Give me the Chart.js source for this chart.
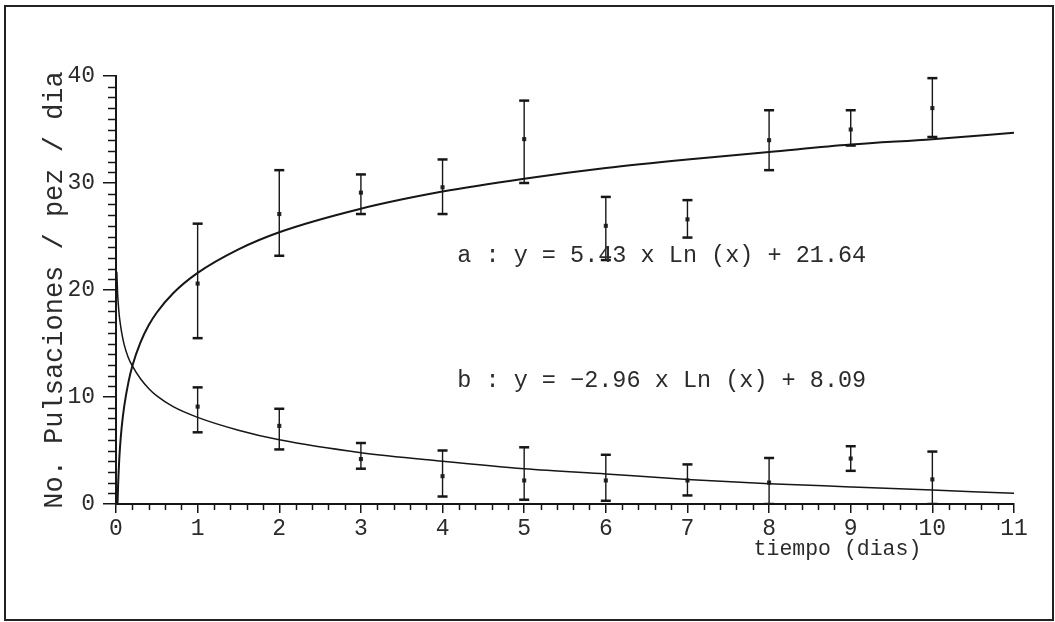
<!DOCTYPE html>
<html>
<head>
<meta charset="utf-8">
<script src="https://cdn.jsdelivr.net/npm/chart.js@4.4.1/dist/chart.umd.min.js"></script>
<style>
  html, body { margin: 0; padding: 0; background: #ffffff; overflow: hidden; }
  #wrap { position: relative; width: 1055px; height: 622px; }
  #frame { position: absolute; left: 4px; top: 5px; width: 1050px; height: 616px;
           box-sizing: border-box; border: 2px solid #222; pointer-events: none; }
</style>
</head>
<body>
<div id="wrap">
  <canvas id="c" width="1055" height="622"></canvas>
  <div id="frame"></div>
</div>
<script>
// ---- data ----
const days = [1, 2, 3, 4, 5, 6, 7, 8, 9, 10];

const aMean = [20.6, 27.1, 29.1, 29.6, 34.1, 26.0, 26.6, 34.0, 35.0, 37.0];
const aHigh = [26.2, 31.2, 30.8, 32.2, 37.7, 28.7, 28.4, 36.8, 36.8, 39.8];
const aLow  = [15.5, 23.2, 27.1, 27.1, 30.0, 22.8, 24.9, 31.2, 33.5, 34.3];

const bMean = [9.1, 7.3, 4.2, 2.6, 2.2, 2.2, 2.2, 2.0, 4.25, 2.3];
const bHigh = [10.9, 8.9, 5.7, 5.0, 5.3, 4.6, 3.7, 4.3, 5.4, 4.9];
const bLow  = [6.7, 5.1, 3.3, 0.7, 0.4, 0.3, 0.8, 0.0, 3.1, 0.0];

// fitted curves
const curveX = [0.01, 0.019, 0.025, 0.03, 0.04, 0.05, 0.07, 0.1, 0.15, 0.2, 0.3, 0.4, 0.5, 0.7, 1, 1.5, 2, 3, 4, 5, 6, 7, 8, 9, 10, 11];
const curveA = [null, 0.1, 1.6, 2.6, 4.2, 5.4, 7.2, 9.1, 11.3, 12.9, 15.1, 16.7, 17.9, 19.7, 21.6, 23.8, 25.4, 27.6, 29.2, 30.4, 31.4, 32.2, 32.9, 33.6, 34.1, 34.7];
const curveB = [21.7, 19.8, 19.0, 18.5, 17.6, 17.0, 16.0, 14.9, 13.7, 12.9, 11.7, 10.8, 10.1, 9.1, 8.1, 6.9, 6.0, 4.8, 4.0, 3.3, 2.8, 2.3, 1.9, 1.6, 1.3, 1.0];

const xTicks = [0, 1, 2, 3, 4, 5, 6, 7, 8, 9, 10, 11];
const yTicks = [0, 10, 20, 30, 40];

const equations = ["a : y = 5.43 x Ln (x) + 21.64", "b : y = \u22122.96 x Ln (x) + 8.09"];
const xTitle = "tiempo (dias)";
const yTitle = "No. Pulsaciones / pez / dia";

// ---- build datasets ----
const INK = '#161616';
const TEXT = '#2b2b2b';
const FONT = "'Liberation Mono', 'DejaVu Sans Mono', monospace";

function curvePoints(ys) {
  const pts = [];
  curveX.forEach((x, i) => { if (ys[i] !== null) pts.push({x: x, y: ys[i]}); });
  return pts;
}

const datasets = [
  { label: 'a fit', data: curvePoints(curveA), showLine: true, borderColor: INK, borderWidth: 2,
    pointRadius: 0, cubicInterpolationMode: 'monotone', fill: false },
  { label: 'b fit', data: curvePoints(curveB), showLine: true, borderColor: INK, borderWidth: 1.5,
    pointRadius: 0, cubicInterpolationMode: 'monotone', fill: false }
];

function addErrorBars(lows, highs) {
  days.forEach((d, i) => {
    datasets.push({
      data: [{x: d, y: lows[i]}, {x: d, y: highs[i]}],
      showLine: true, borderColor: INK, borderWidth: 1.4,
      pointStyle: 'line', pointRadius: 5, pointBorderWidth: 2.5, pointBorderColor: INK,
      pointBackgroundColor: INK, fill: false
    });
  });
}
addErrorBars(aLow, aHigh);
addErrorBars(bLow, bHigh);

[aMean, bMean].forEach(m => {
  datasets.push({
    data: days.map((d, i) => ({x: d, y: m[i]})),
    showLine: false, pointStyle: 'rect', pointRadius: 2.9,
    pointBackgroundColor: '#2a2a2a', pointBorderWidth: 0
  });
});

// ---- plugin: minor ticks, equations, x title ----
const extras = {
  id: 'extras',
  afterDraw(chart) {
    const ctx = chart.ctx;
    const xs = chart.scales.x, ys = chart.scales.y;
    const area = chart.chartArea;
    ctx.save();
    ctx.strokeStyle = INK;
    ctx.lineWidth = 1.5;
    // minor ticks x (every 0.2)
    for (let k = 0; k <= 55; k++) {
      if (k % 5 === 0) continue;
      const px = Math.round(xs.getPixelForValue(k / 5)) + 0.5;
      ctx.beginPath(); ctx.moveTo(px, area.bottom); ctx.lineTo(px, area.bottom + 6); ctx.stroke();
    }
    // minor ticks y (every 1)
    for (let k = 0; k <= 40; k++) {
      if (k % 10 === 0) continue;
      const py = Math.round(ys.getPixelForValue(k)) + 0.5;
      ctx.beginPath(); ctx.moveTo(area.left, py); ctx.lineTo(area.left - 8, py); ctx.stroke();
    }
    // equations
    ctx.fillStyle = TEXT;
    ctx.font = "23.5px " + FONT;
    ctx.textAlign = 'left';
    ctx.textBaseline = 'alphabetic';
    const eqPos = [[4.18, 22.6], [4.18, 10.9]];
    equations.forEach((t, i) => {
      ctx.fillText(t, xs.getPixelForValue(eqPos[i][0]), ys.getPixelForValue(eqPos[i][1]));
    });
    // x axis title
    ctx.font = "21.5px " + FONT;
    ctx.fillText(xTitle, xs.getPixelForValue(7.81), area.bottom + 51);
    ctx.restore();
  }
};

new Chart(document.getElementById('c'), {
  type: 'scatter',
  data: { datasets: datasets },
  plugins: [extras],
  options: {
    responsive: false,
    animation: false,
    events: [],
    layout: { padding: { left: 0, top: 76, right: 41, bottom: 0 } },
    plugins: { legend: { display: false }, tooltip: { enabled: false } },
    scales: {
      x: {
        type: 'linear', min: 0, max: 11,
        afterFit: s => { s.height = 118; },
        afterBuildTicks: s => { s.ticks = xTicks.map(v => ({value: v})); },
        border: { display: true, color: INK, width: 2 },
        grid: { drawOnChartArea: false, drawTicks: true, tickLength: 9, color: INK, lineWidth: 1.5 },
        ticks: { color: TEXT, padding: 2, maxRotation: 0, autoSkip: false,
                 font: { family: FONT, size: 23 } }
      },
      y: {
        type: 'linear', min: 0, max: 40,
        afterFit: s => { s.width = 116; },
        afterBuildTicks: s => { s.ticks = yTicks.map(v => ({value: v})); },
        border: { display: true, color: INK, width: 2 },
        grid: { drawOnChartArea: false, drawTicks: true, tickLength: 13, color: INK, lineWidth: 1.5 },
        ticks: { color: TEXT, padding: 8, font: { family: FONT, size: 23 } },
        title: { display: true, text: yTitle, color: TEXT,
                 font: { family: FONT, size: 27 }, padding: { top: 39, bottom: 0 } }
      }
    }
  }
});
</script>
</body>
</html>
